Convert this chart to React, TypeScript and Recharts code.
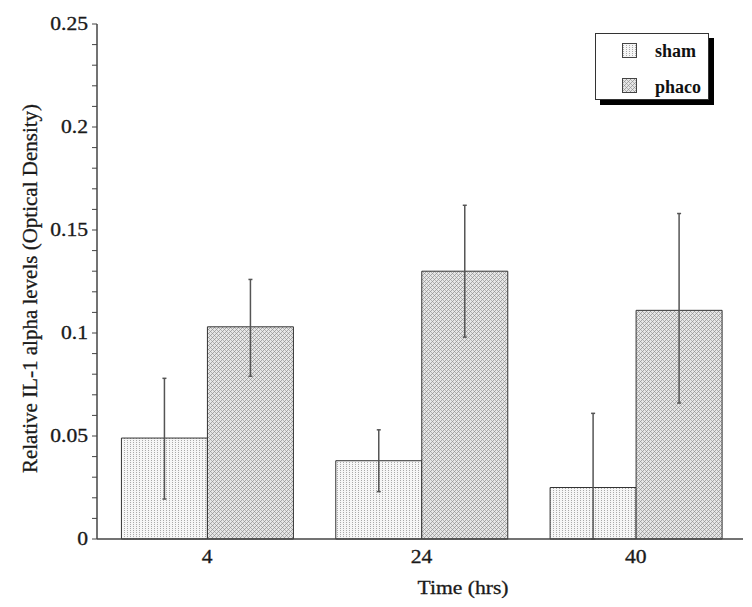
import React from 'react';
import { BarChart, Bar, XAxis, YAxis, ErrorBar } from 'recharts';

const categories = ['4', '24', '40'];
const shamValues = [0.049, 0.038, 0.025];
const phacoValues = [0.103, 0.13, 0.111];
// [lower, upper] error extents
const shamErrors: [number, number][] = [[0.0296, 0.029], [0.015, 0.015], [0.025, 0.036]];
const phacoErrors: [number, number][] = [[0.024, 0.023], [0.032, 0.032], [0.045, 0.047]];
const yTicks = [
  0, 0.01, 0.02, 0.03, 0.04, 0.05, 0.06, 0.07, 0.08, 0.09, 0.1, 0.11, 0.12, 0.13,
  0.14, 0.15, 0.16, 0.17, 0.18, 0.19, 0.2, 0.21, 0.22, 0.23, 0.24, 0.25,
];
const yMajorLabels: Record<string, string> = {
  '0': '0', '5': '0.05', '10': '0.1', '15': '0.15', '20': '0.2', '25': '0.25',
};

const data = categories.map((c, i) => ({
  time: c,
  sham: shamValues[i],
  phaco: phacoValues[i],
  shamErr: shamErrors[i],
  phacoErr: phacoErrors[i],
}));

const FONT = '"Liberation Serif", "Times New Roman", serif';

const YTick = (props: any) => {
  const { x, y, payload } = props;
  const key = String(Math.round(payload.value * 100));
  const label = yMajorLabels[key];
  if (!label) return null;
  return (
    <text
      x={0}
      y={0}
      transform={`translate(${x},${y}) scale(1.2,1)`}
      dy={6}
      textAnchor="end"
      fontFamily={FONT}
      fontSize={18}
      fill="#1a1a1a"
      stroke="#1a1a1a"
      strokeWidth={0.3}
    >
      {label}
    </text>
  );
};

const XTick = (props: any) => {
  const { x, y, payload } = props;
  return (
    <text
      x={0}
      y={0}
      transform={`translate(${x},${y}) scale(1.2,1)`}
      dy={24}
      textAnchor="middle"
      fontFamily={FONT}
      fontSize={18}
      fill="#1a1a1a"
      stroke="#1a1a1a"
      strokeWidth={0.3}
    >
      {payload.value}
    </text>
  );
};

const Patterns = ({ prefix }: { prefix: string }) => (
  <defs>
    <pattern id={`${prefix}sham`} width={3} height={2} patternUnits="userSpaceOnUse">
      <rect width={3} height={2} fill="#f6f6f6" />
      <rect x={1} y={0} width={1} height={1} fill="#aaaaaa" />
    </pattern>
    <pattern id={`${prefix}phaco`} width={4} height={4} patternUnits="userSpaceOnUse">
      <rect width={4} height={4} fill="#e6e6e6" />
      <rect x={0} y={1} width={1} height={1} fill="#999" />
      <rect x={1} y={0} width={1} height={1} fill="#a8a8a8" />
      <rect x={2} y={3} width={1} height={1} fill="#999" />
      <rect x={3} y={2} width={1} height={1} fill="#a8a8a8" />
      <rect x={1} y={2} width={1} height={1} fill="#b4b4b4" />
      <rect x={3} y={0} width={1} height={1} fill="#b4b4b4" />
    </pattern>
  </defs>
);

const Legend = () => (
  <div
    style={{
      position: 'absolute',
      left: 595,
      top: 33,
      width: 112,
      height: 65,
      border: '1px solid #333',
      background: '#fff',
      boxShadow: '5px 5px 0 #000',
      fontFamily: FONT,
      fontWeight: 'bold',
      fontSize: 18,
      color: '#111',
    }}
  >
    {[
      { key: 'sham', label: 'sham', sq: 9, txt: 6, textLeft: 59 },
      { key: 'phaco', label: 'phaco', sq: 44, txt: 42, textLeft: 59 },
    ].map((it) => (
      <div key={it.key}>
        <svg
          width={15}
          height={15}
          style={{ position: 'absolute', left: 26, top: it.sq }}
        >
          <Patterns prefix="lg" />
          <rect x={0.5} y={0.5} width={14} height={14} fill={`url(#lg${it.key})`} stroke="#444" />
        </svg>
        <span
          style={{
            position: 'absolute',
            left: it.textLeft,
            top: it.txt,
            lineHeight: '22px',
          }}
        >
          {it.label}
        </span>
      </div>
    ))}
  </div>
);

export default function App() {
  return (
    <div style={{ position: 'absolute', left: 0, top: 0, width: 752, height: 607, background: '#fff' }}>
      <svg width={0} height={0} style={{ position: 'absolute' }}>
        <Patterns prefix="ch" />
      </svg>
      <BarChart
        width={752}
        height={607}
        data={data}
        margin={{ top: 24, right: 9, bottom: 0, left: 0 }}
        barCategoryGap="10%"
        barGap={0}
      >
        <XAxis
          dataKey="time"
          height={68}
          tickLine={false}
          tickSize={0}
          tickMargin={0}
          tick={<XTick />}
          axisLine={{ stroke: '#444', strokeWidth: 1.5 }}
          padding={{ left: 3, right: 0 }}
          label={(p: any) => {
            const vb = p.viewBox || {};
            return (
              <text
                x={0}
                y={0}
                transform={`translate(${vb.x + vb.width / 2 + 43},${vb.y + 55}) scale(1.2,1)`}
                textAnchor="middle"
                fontFamily={FONT}
                fontSize={18}
                fill="#1a1a1a"
                stroke="#1a1a1a"
                strokeWidth={0.3}
              >
                Time (hrs)
              </text>
            );
          }}
        />
        <YAxis
          width={97}
          domain={[0, 0.25]}
          ticks={yTicks}
          interval={0}
          tickSize={5}
          tickMargin={4}
          tick={<YTick />}
          tickLine={{ stroke: '#444' }}
          axisLine={{ stroke: '#444', strokeWidth: 1.5 }}
          label={(p: any) => {
            const vb = p.viewBox || {};
            return (
              <text
                x={0}
                y={0}
                transform={`translate(${vb.x + 37},${vb.y + vb.height / 2 + 7}) rotate(-90)`}
                textAnchor="middle"
                fontFamily={FONT}
                fontSize={21}
                fill="#1a1a1a"
                stroke="#1a1a1a"
                strokeWidth={0.3}
              >
                Relative IL-1 alpha levels (Optical Density)
              </text>
            );
          }}
        />
        <Bar dataKey="sham" fill="url(#chsham)" stroke="#333" strokeWidth={1} isAnimationActive={false}>
          <ErrorBar dataKey="shamErr" width={2} stroke="#555" strokeWidth={1.5} />
        </Bar>
        <Bar dataKey="phaco" fill="url(#chphaco)" stroke="#333" strokeWidth={1} isAnimationActive={false}>
          <ErrorBar dataKey="phacoErr" width={2} stroke="#555" strokeWidth={1.5} />
        </Bar>
      </BarChart>
      <Legend />
    </div>
  );
}
